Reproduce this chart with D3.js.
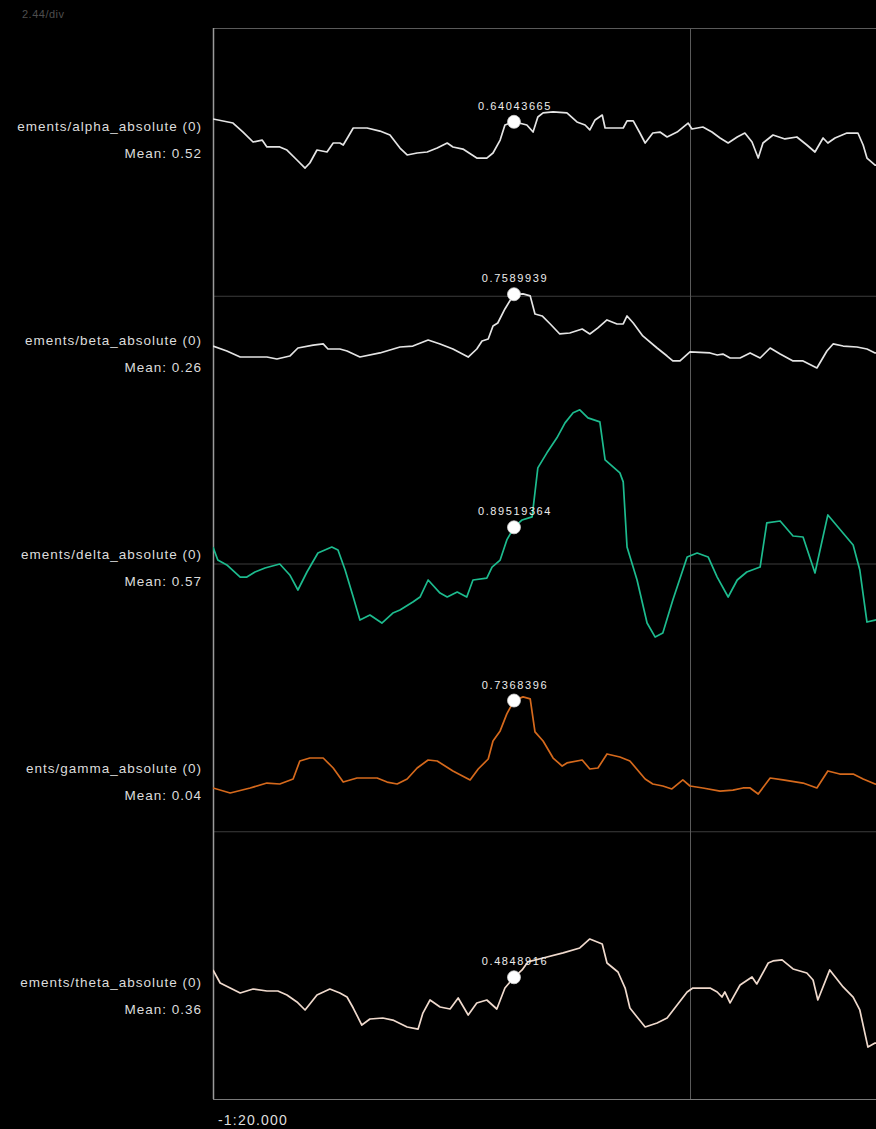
<!DOCTYPE html>
<html>
<head>
<meta charset="utf-8">
<script src="https://cdn.jsdelivr.net/npm/d3@7"></script>
<style>
  html, body { margin: 0; padding: 0; background: #000; }
  svg { display: block; }
</style>
</head>
<body>
<div id="chart"></div>
<script>
// Window start and scale settings of the multi-trace viewer
const START_SECONDS = -80;
const SECONDS_PER_DIV = 10;
const UNITS_PER_DIV = 2.44;

const channels = ["alpha", "beta", "delta", "gamma", "theta"];
// channel names as they fit in the label column
const channelLabels = [
  "ements/alpha_absolute (0)",
  "ements/beta_absolute (0)",
  "ements/delta_absolute (0)",
  "ents/gamma_absolute (0)",
  "ements/theta_absolute (0)"
];
const channelMeans = [0.52, 0.26, 0.57, 0.04, 0.36];
const channelColors = ["#e4e4e4", "#e4e4e4", "#1dbb8e", "#d5691c", "#efd9cc"];

// Cursor readout (seconds into window) and the value of each trace there
const cursorTime = 6.31;
const cursorValues = [0.64043665, 0.7589939, 0.89519364, 0.7368396, 0.4848916];

const xTickLabels = ["-1:20.000"];

// [seconds into window, value]
const alphaSeries = [
  [0.00,0.666],[0.42,0.629],[0.63,0.547],[0.84,0.456],[1.03,0.474],[1.13,0.411],[1.40,0.411],
  [1.55,0.383],[1.76,0.292],[1.93,0.219],[2.03,0.265],[2.18,0.383],[2.39,0.365],[2.52,0.447],
  [2.66,0.447],[2.73,0.429],[2.83,0.502],[2.94,0.584],[3.23,0.584],[3.50,0.556],[3.71,0.520],
  [3.92,0.401],[4.07,0.338],[4.28,0.356],[4.49,0.365],[4.70,0.401],[4.91,0.447],[5.03,0.411],
  [5.24,0.392],[5.53,0.310],[5.74,0.310],[5.87,0.356],[6.02,0.474],[6.12,0.611],[6.31,0.64043665],
  [6.58,0.611],[6.71,0.547],[6.81,0.684],[6.92,0.721],[7.13,0.730],[7.42,0.721],[7.63,0.639],
  [7.80,0.611],[7.90,0.566],[8.01,0.657],[8.16,0.702],[8.22,0.584],[8.60,0.584],[8.68,0.648],
  [8.81,0.648],[8.95,0.538],[9.06,0.447],[9.22,0.538],[9.37,0.547],[9.52,0.502],[9.73,0.547],
  [9.96,0.629],[10.04,0.575],[10.27,0.593],[10.46,0.547],[10.63,0.493],[10.80,0.447],[10.99,0.502],
  [11.15,0.538],[11.30,0.456],[11.43,0.310],[11.53,0.447],[11.74,0.520],[11.99,0.484],[12.24,0.502],
  [12.45,0.429],[12.62,0.365],[12.79,0.493],[12.89,0.447],[13.04,0.493],[13.29,0.538],[13.52,0.538],
  [13.63,0.429],[13.71,0.310],[13.88,0.246],[14.00,0.240]
];

const betaSeries = [
  [0.00,0.287],[0.29,0.242],[0.57,0.187],[1.13,0.187],[1.34,0.169],[1.61,0.196],[1.78,0.269],
  [2.10,0.296],[2.31,0.306],[2.41,0.260],[2.66,0.260],[2.81,0.242],[3.08,0.187],[3.50,0.224],
  [3.92,0.278],[4.19,0.287],[4.51,0.342],[4.76,0.306],[5.03,0.260],[5.35,0.187],[5.53,0.260],
  [5.64,0.333],[5.77,0.351],[5.87,0.470],[5.97,0.497],[6.12,0.625],[6.31,0.7589939],[6.50,0.762],
  [6.65,0.744],[6.75,0.579],[6.90,0.561],[7.07,0.488],[7.27,0.397],[7.48,0.406],[7.74,0.442],
  [7.90,0.397],[8.07,0.452],[8.26,0.525],[8.47,0.488],[8.60,0.488],[8.68,0.561],[8.81,0.497],
  [9.01,0.379],[9.31,0.269],[9.52,0.196],[9.64,0.151],[9.79,0.151],[10.00,0.233],[10.42,0.224],
  [10.57,0.205],[10.69,0.214],[10.84,0.178],[11.05,0.178],[11.26,0.224],[11.47,0.178],[11.68,0.269],
  [11.89,0.214],[12.16,0.151],[12.37,0.151],[12.66,0.087],[12.87,0.242],[13.00,0.306],[13.21,0.287],
  [13.50,0.278],[13.71,0.260],[13.88,0.224],[14.00,0.220]
];

const deltaSeries = [
  [0.00,0.716],[0.10,0.597],[0.29,0.552],[0.57,0.442],[0.71,0.442],[0.88,0.488],[1.09,0.524],
  [1.40,0.561],[1.61,0.461],[1.78,0.324],[1.97,0.488],[2.20,0.661],[2.49,0.716],[2.62,0.689],
  [2.77,0.506],[2.94,0.260],[3.08,0.050],[3.29,0.096],[3.54,0.023],[3.77,0.114],[3.92,0.141],
  [4.19,0.214],[4.34,0.260],[4.51,0.415],[4.76,0.296],[4.91,0.260],[5.12,0.305],[5.32,0.260],
  [5.45,0.415],[5.74,0.433],[5.85,0.533],[6.02,0.597],[6.16,0.780],[6.31,0.89519364],[6.48,0.962],
  [6.69,0.990],[6.81,1.437],[7.00,1.574],[7.21,1.711],[7.38,1.847],[7.55,1.939],[7.69,1.966],
  [7.86,1.893],[8.11,1.856],[8.22,1.510],[8.53,1.391],[8.60,1.309],[8.68,0.716],[8.89,0.415],
  [9.10,0.023],[9.27,-0.105],[9.43,-0.069],[9.64,0.232],[9.94,0.625],[10.15,0.661],[10.38,0.625],
  [10.57,0.442],[10.80,0.260],[10.99,0.415],[11.19,0.488],[11.47,0.533],[11.61,0.935],[11.89,0.953],
  [12.16,0.816],[12.37,0.807],[12.62,0.479],[12.89,1.008],[13.19,0.853],[13.42,0.734],[13.56,0.506],
  [13.71,0.032],[13.88,0.050],[14.00,0.060]
];

const gammaSeries = [
  [0.00,-0.060],[0.36,-0.106],[0.78,-0.060],[1.13,-0.015],[1.40,-0.024],[1.68,0.022],[1.82,0.186],
  [2.03,0.213],[2.31,0.213],[2.52,0.122],[2.73,-0.006],[3.02,0.031],[3.44,0.031],[3.65,-0.006],
  [3.86,-0.024],[4.07,0.022],[4.28,0.122],[4.51,0.195],[4.70,0.186],[5.03,0.095],[5.39,0.013],
  [5.56,0.113],[5.77,0.204],[5.87,0.368],[6.02,0.460],[6.16,0.615],[6.31,0.7368396],[6.50,0.770],
  [6.65,0.752],[6.75,0.451],[6.92,0.368],[7.13,0.213],[7.32,0.140],[7.42,0.168],[7.74,0.195],
  [7.90,0.113],[8.07,0.122],[8.26,0.250],[8.53,0.222],[8.74,0.186],[9.06,0.022],[9.22,-0.024],
  [9.43,-0.042],[9.62,-0.069],[9.85,0.013],[10.00,-0.042],[10.27,-0.060],[10.63,-0.088],[10.90,-0.079],
  [11.11,-0.060],[11.26,-0.060],[11.43,-0.115],[11.68,0.031],[11.95,0.013],[12.37,-0.015],[12.66,-0.060],
  [12.89,0.095],[13.14,0.067],[13.42,0.067],[13.63,0.022],[13.88,-0.024],[14.00,-0.035]
];

const thetaSeries = [
  [0.00,0.552],[0.15,0.433],[0.36,0.387],[0.57,0.342],[0.84,0.378],[1.13,0.360],[1.36,0.360],
  [1.55,0.324],[1.76,0.260],[1.93,0.187],[2.18,0.324],[2.45,0.378],[2.66,0.342],[2.81,0.305],
  [2.94,0.205],[3.12,0.050],[3.29,0.105],[3.56,0.114],[3.77,0.095],[4.07,0.032],[4.30,0.013],
  [4.40,0.159],[4.55,0.278],[4.76,0.214],[4.97,0.196],[5.14,0.296],[5.35,0.141],[5.53,0.251],
  [5.74,0.278],[5.95,0.196],[6.12,0.387],[6.31,0.4848916],[6.48,0.552],[6.60,0.625],[6.92,0.661],
  [7.34,0.707],[7.69,0.752],[7.90,0.834],[8.16,0.789],[8.26,0.615],[8.49,0.533],[8.64,0.387],
  [8.74,0.205],[8.89,0.123],[9.06,0.032],[9.31,0.068],[9.52,0.114],[9.73,0.232],[9.94,0.351],
  [10.06,0.387],[10.42,0.387],[10.57,0.351],[10.67,0.305],[10.73,0.351],[10.84,0.251],[11.05,0.415],
  [11.30,0.488],[11.40,0.424],[11.64,0.615],[11.74,0.634],[11.93,0.643],[12.16,0.561],[12.45,0.524],
  [12.58,0.460],[12.68,0.278],[12.93,0.552],[13.21,0.397],[13.42,0.305],[13.56,0.187],[13.73,-0.151],
  [13.88,-0.114],[14.00,-0.120]
];

const seriesList = [alphaSeries, betaSeries, deltaSeries, gammaSeries, thetaSeries];

// ---- layout ----
const W = 876, H = 1129;
const plot = { left: 213, top: 28, bottom: 1099, right: W };
const DIV_PX = (plot.bottom - plot.top) / 4;
const PX_PER_UNIT = DIV_PX / UNITS_PER_DIV;

const svg = d3.select("#chart").append("svg")
  .attr("width", W).attr("height", H)
  .style("background", "#000");

// time axis: one division = SECONDS_PER_DIV
const x = d3.scaleLinear()
  .domain([0, SECONDS_PER_DIV])
  .range([plot.left, plot.left + DIV_PX * 477 / 267.75]);

// vertical divisions
const yDiv = d3.scaleLinear().domain([0, 4]).range([plot.top, plot.bottom]);

// trace centre lines (each trace is centred on its own mean)
const yCentre = d3.scaleLinear().domain([0, channels.length - 1]).range([135, 991]);

svg.append("defs").append("clipPath").attr("id", "plotClip")
  .append("rect")
  .attr("x", plot.left).attr("y", plot.top)
  .attr("width", plot.right - plot.left).attr("height", plot.bottom - plot.top);

// scale readout
svg.append("text")
  .attr("x", 22).attr("y", 18)
  .attr("fill", "#4e4e4e")
  .style("font", "11px 'Liberation Sans', Arial, sans-serif")
  .style("letter-spacing", "0.5px")
  .text(`${UNITS_PER_DIV}/div`);

// grid
const grid = svg.append("g");
grid.selectAll("line.h")
  .data([1, 2, 3])
  .join("line")
  .attr("x1", plot.left).attr("x2", plot.right)
  .attr("y1", d => yDiv(d) + 0.5).attr("y2", d => yDiv(d) + 0.5)
  .attr("stroke", "#3c3c3c").attr("stroke-width", 1);

grid.selectAll("line.v")
  .data([SECONDS_PER_DIV])
  .join("line")
  .attr("x1", d => Math.round(x(d)) + 0.5).attr("x2", d => Math.round(x(d)) + 0.5)
  .attr("y1", plot.top).attr("y2", plot.bottom)
  .attr("stroke", "#5a5a5a").attr("stroke-width", 1);

// frame
grid.append("line")
  .attr("x1", plot.left).attr("x2", plot.right)
  .attr("y1", plot.top + 0.5).attr("y2", plot.top + 0.5)
  .attr("stroke", "#5a5a5a");
grid.append("line")
  .attr("x1", plot.left).attr("x2", plot.right)
  .attr("y1", plot.bottom + 0.5).attr("y2", plot.bottom + 0.5)
  .attr("stroke", "#7a7a7a");
grid.append("line")
  .attr("x1", plot.left + 0.5).attr("x2", plot.left + 0.5)
  .attr("y1", plot.top).attr("y2", plot.bottom)
  .attr("stroke", "#9a9a9a").attr("stroke-width", 1.5);

// time tick label
svg.selectAll("text.tick")
  .data(xTickLabels)
  .join("text")
  .attr("class", "tick")
  .attr("x", (d, i) => x(i * SECONDS_PER_DIV) + 5)
  .attr("y", 1125)
  .attr("fill", "#dedede")
  .style("font", "14px 'Liberation Sans', Arial, sans-serif")
  .style("letter-spacing", "1.2px")
  .text(d => d);

// traces
const traces = svg.append("g");

channels.forEach((name, i) => {
  const yc = yCentre(i);
  const mean = channelMeans[i];
  const y = d3.scaleLinear()
    .domain([mean - 1, mean + 1])
    .range([yc + PX_PER_UNIT, yc - PX_PER_UNIT]);

  const line = d3.line()
    .x(d => x(d[0]))
    .y(d => y(d[1]))
    .curve(d3.curveLinear);

  traces.append("path")
    .datum(seriesList[i])
    .attr("clip-path", "url(#plotClip)")
    .attr("fill", "none")
    .attr("stroke", channelColors[i])
    .attr("stroke-width", 1.7)
    .attr("stroke-linejoin", "round")
    .attr("d", line);

  // channel name and mean, right-aligned against the axis
  svg.append("text")
    .attr("x", 202).attr("y", yc - 4)
    .attr("text-anchor", "end")
    .attr("fill", "#dcdcdc")
    .style("font", "13.5px 'Liberation Sans', Arial, sans-serif")
    .style("letter-spacing", "1px")
    .text(channelLabels[i]);

  svg.append("text")
    .attr("x", 202).attr("y", yc + 23)
    .attr("text-anchor", "end")
    .attr("fill", "#dcdcdc")
    .style("font", "13.5px 'Liberation Sans', Arial, sans-serif")
    .style("letter-spacing", "1px")
    .text(`Mean: ${mean.toFixed(2)}`);

  // cursor marker and readout
  const cx = x(cursorTime), cy = y(cursorValues[i]);
  traces.append("circle")
    .attr("cx", cx).attr("cy", cy).attr("r", 6.5)
    .attr("fill", "#ffffff")
    .attr("stroke", "#cfcfcf").attr("stroke-width", 0.8);

  traces.append("text")
    .attr("x", cx + 1).attr("y", cy - 12)
    .attr("text-anchor", "middle")
    .attr("fill", "#ececec")
    .style("font", "11px 'Liberation Sans', Arial, sans-serif")
    .style("letter-spacing", "1.6px")
    .text(String(cursorValues[i]));
});
</script>
</body>
</html>
